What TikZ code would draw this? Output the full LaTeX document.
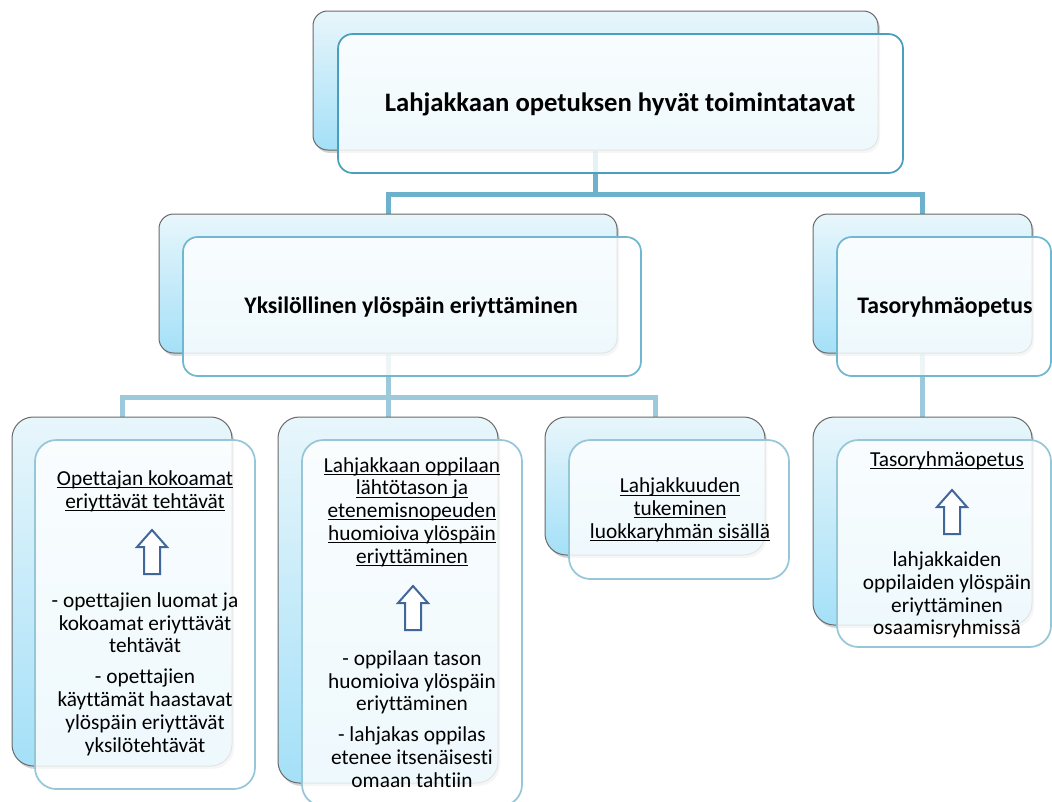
\documentclass[tikz,border=0pt]{standalone}
\usepackage{fontspec}
\setmainfont{Carlito}[Ligatures={NoCommon}]
\usetikzlibrary{fit,shadows,backgrounds}

\definecolor{bkTop}{RGB}{232,246,251}
\definecolor{bkBot}{RGB}{164,224,248}
\definecolor{bkEdge}{RGB}{105,105,105}
\definecolor{connA}{RGB}{108,178,204}
\definecolor{connB}{RGB}{156,202,219}
\definecolor{edgeTop}{RGB}{72,160,190}
\definecolor{edgeMid}{RGB}{112,184,208}
\definecolor{edgeLow}{RGB}{150,199,217}
\definecolor{arrowBlue}{RGB}{65,103,154}

% underline at a fixed distance below the baseline
\newcommand{\uln}[1]{\setbox0\hbox{#1}\rlap{\rule[-1.9pt]{\wd0}{0.7pt}}\box0}

\begin{document}
\begin{tikzpicture}[x=0.75pt,y=-0.75pt,
  backbox/.style={rectangle, rounded corners=#1, draw=bkEdge, line width=0.75pt,
    top color=bkTop, bottom color=bkBot, inner sep=0pt,
    drop shadow={shadow xshift=1.5pt, shadow yshift=-2.2pt, opacity=0.35}},
  frontbox/.style={rectangle, rounded corners=#1, line width=1.3pt,
    fill=white, fill opacity=0.82, inner sep=0pt},
  conn/.style={line width=3.75pt},
  headtxt/.style={inner sep=0pt, font=\fontsize{20}{24}\selectfont\bfseries},
  midtxt/.style={inner sep=0pt, font=\fontsize{17.8}{21}\selectfont\bfseries},
  lowtxt/.style={inner sep=0pt, align=center, font=\fontsize{16}{17.1}\selectfont},
  uparrow/.pic={\draw[arrowBlue, line width=1.5pt, fill=white, line join=miter]
    (0,0) -- (15,17) -- (8,17) -- (8,44) -- (-8,44) -- (-8,17) -- (-15,17) -- cycle;}
]
\useasboundingbox (0,0) rectangle (1052,801);

% ---- top level
\node[backbox=11pt, fit={(313,11) (878,150)}] (topB) {};
\node[frontbox=11pt, draw=edgeTop, fit={(338,34) (903,173)}] (topF) {};
\node[headtxt] (topT) at (620,104) {Lahjakkaan opetuksen hyvät toimintatavat};

% ---- second level
\node[backbox=11pt, fit={(159,214) (617,353)}] (mlB) {};
\node[frontbox=11pt, draw=edgeMid, fit={(183,237) (641,376)}] (mlF) {};
\node[midtxt] (mlT) at (411,307) {Yksilöllinen ylöspäin eriyttäminen};

\node[backbox=11pt, fit={(813,214) (1032,353)}] (mrB) {};
\node[frontbox=11pt, draw=edgeMid, fit={(837,237) (1051,376)}] (mrF) {};
\node[midtxt] (mrT) at (945,307) {Tasoryhmäopetus};

% ---- third level
\node[backbox=16pt, fit={(12,417) (232,766)}] (b1B) {};
\node[frontbox=16pt, draw=edgeLow, fit={(35,440) (255,789)}] (b1F) {};
\node[lowtxt] (b1T) at (145,491) {\uln{Opettajan kokoamat}\\\uln{eriyttävät tehtävät}};
\pic at (152,530) {uparrow};
\node[lowtxt] (b1X) at (145,674) {- opettajien luomat ja\\kokoamat eriyttävät\\tehtävät\\[6pt]- opettajien\\käyttämät haastavat\\ylöspäin eriyttävät\\yksilötehtävät};

\node[backbox=16pt, fit={(278,417) (498,783)}] (b2B) {};
\node[frontbox=16pt, draw=edgeLow, fit={(302,440) (522,806)}] (b2F) {};
\node[lowtxt] (b2T) at (412,512) {\uln{Lahjakkaan oppilaan}\\\uln{lähtötason ja}\\\uln{etenemisnopeuden}\\\uln{huomioiva ylöspäin}\\\uln{eriyttäminen}};
\pic at (413,586) {uparrow};
\node[lowtxt] (b2X) at (412,719) {- oppilaan tason\\huomioiva ylöspäin\\eriyttäminen\\[6pt]- lahjakas oppilas\\etenee itsenäisesti\\omaan tahtiin};

\node[backbox=16pt, fit={(545,417) (765,555)}] (b3B) {};
\node[frontbox=16pt, draw=edgeLow, fit={(569,440) (789,579)}] (b3F) {};
\node[lowtxt] (b3T) at (680,510) {\uln{Lahjakkuuden}\\\uln{tukeminen}\\\uln{luokkaryhmän sisällä}};

\node[backbox=16pt, fit={(813,417) (1032,625)}] (b4B) {};
\node[frontbox=16pt, draw=edgeLow, fit={(837,440) (1051,647)}] (b4F) {};
\node[lowtxt] (b4T) at (947,461) {\uln{Tasoryhmäopetus}};
\pic at (952,490) {uparrow};
\node[lowtxt] (b4X) at (947,595) {lahjakkaiden\\oppilaiden ylöspäin\\eriyttäminen\\osaamisryhmissä};

% ---- connectors, behind the boxes
\begin{scope}[on background layer]
  \draw[conn, connA] (topB.south) -- ++(0,44) coordinate (busTop) -| (mlB.north);
  \draw[conn, connA] (busTop) -| (mrB.north);
  \draw[conn, connB] (mlB.south) -- ++(0,44) coordinate (busMid) -| (b1B.north);
  \draw[conn, connB] (busMid) -- (b2B.north);
  \draw[conn, connB] (busMid) -| (b3B.north);
  \draw[conn, connB] (mrB.south) -- (b4B.north);
\end{scope}
\end{tikzpicture}
\end{document}
